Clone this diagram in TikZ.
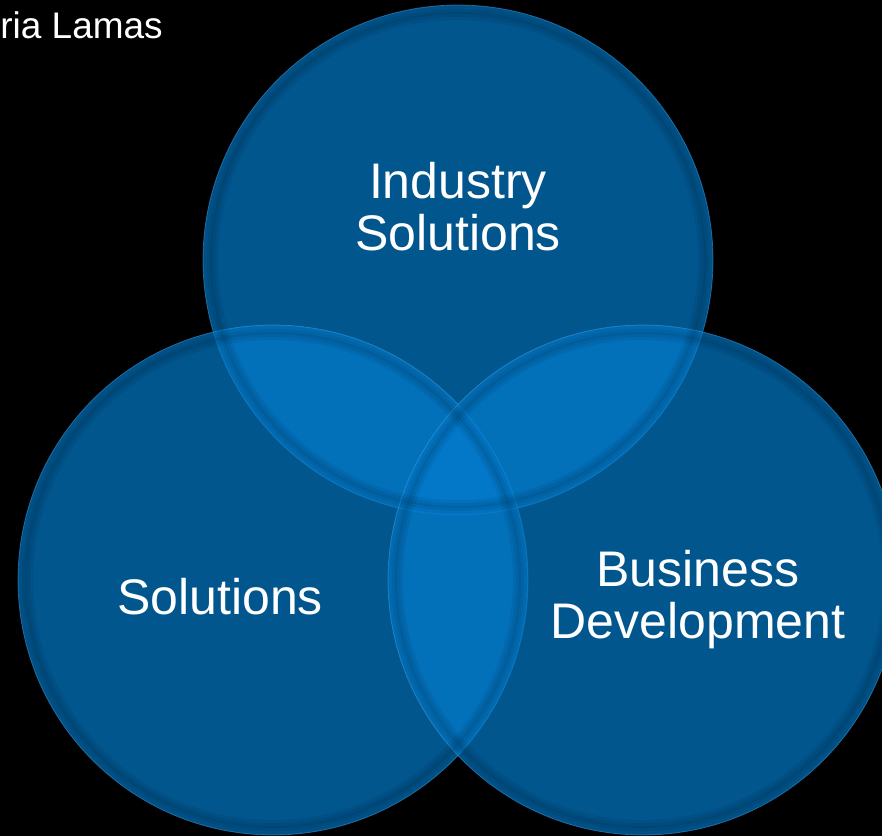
\documentclass[tikz,border=0pt]{standalone}
\usepackage{fontspec}
\setmainfont{Liberation Sans}
\usetikzlibrary{positioning}
\definecolor{venn}{HTML}{047DCF}
\definecolor{rim}{HTML}{3A9BDB}
\tikzset{
  bubble/.style={circle, minimum size=510pt, inner sep=0pt, fill=venn,
    fill opacity=0.69, draw=rim, draw opacity=0.55, line width=0.7pt},
  shade ring/.style={circle, minimum size=#1, inner sep=0pt, draw=black,
    draw opacity=0.06, line width=8pt},
  title/.style={text=white, align=center, inner sep=0pt,
    font=\fontsize{50}{52}\selectfont},
}

\begin{document}
\begin{tikzpicture}[x=1pt, y=-1pt]
  \fill[black] (0,0) rectangle (882,836);
  \clip (0,0) rectangle (882,836);
  % the three circles
  \node[bubble] (ind) at (458,260) {};
  \node[bubble] (sol) at (273,580) {};
  \node[bubble] (bus) at (643,580) {};
  % soft darkening just inside each rim
  \foreach \c in {ind,sol,bus}
    \foreach \d in {500pt,494pt,488pt} \node[shade ring=\d] at (\c) {};
  % labels
  \node[title] (indtxt) at (458,207) {Industry\\Solutions};
  \node[title] (soltxt) at (220,597) {Solutions};
  \node[title] (bustxt) at (698,600) {Business\\Development};
  \node[text=white, anchor=base east, inner sep=0pt, font=\fontsize{37}{40}\selectfont]
    (author) at (163,38) {ria Lamas};
\end{tikzpicture}
\end{document}
